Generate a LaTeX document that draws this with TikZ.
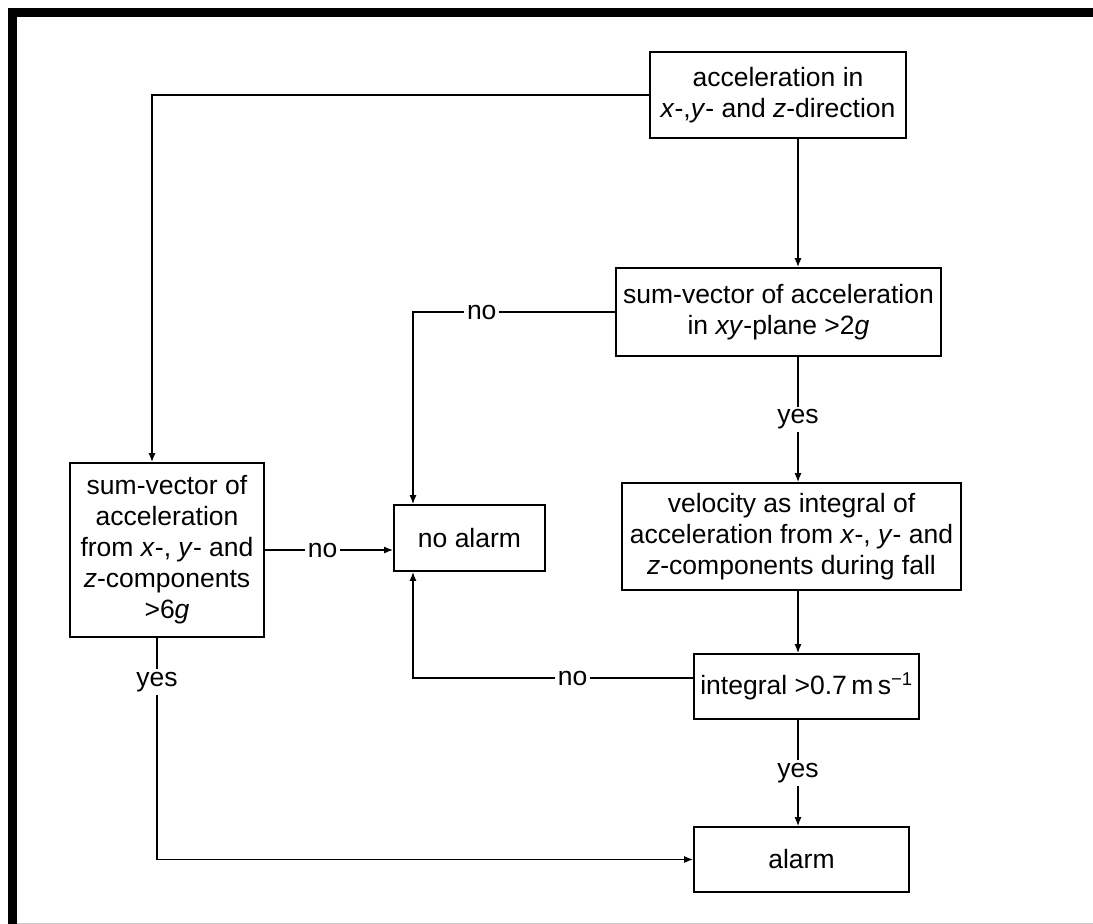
\documentclass[tikz,border=0pt]{standalone}
\usepackage{fontspec}
\setmainfont{Liberation Sans}
\usetikzlibrary{arrows.meta}
\begin{document}
\begin{tikzpicture}[x=1pt,y=-1pt,
  box/.style={draw, line width=1.6pt, align=center, inner sep=0pt,
    font=\fontsize{26.5}{31}\selectfont},
  arr/.style={line width=1.6pt, -{Latex[length=9pt,width=7pt]}},
  lab/.style={fill=white, inner sep=3pt, font=\fontsize{26.5}{31}\selectfont}]
\useasboundingbox (0,0) rectangle (1093,924);
\fill[white] (0,0) rectangle (1093,924);
% frame
\fill[black] (8,8) rectangle (17,924);
\fill[black] (8,8) rectangle (1093,17);
\draw[black!20, line width=1pt] (17,923.5) -- (1093,923.5);
% nodes
\node[box, minimum width=256pt, minimum height=86pt] (acc) at (778,95)
  {acceleration in\\\textit{x}-,\textit{y}- and \textit{z}-direction};
\node[box, minimum width=325pt, minimum height=88pt] (xy) at (778.5,312)
  {sum-vector of acceleration\\in \textit{xy}-plane >2\textit{g}};
\node[box, minimum width=339pt, minimum height=107pt] (vel) at (791.5,536.5)
  {velocity as integral of\\acceleration from \textit{x}-, \textit{y}- and\\\textit{z}-components during fall};
\node[box, minimum width=225pt, minimum height=65pt] (integ) at (806.5,686.5)
  {integral >0.7\,m\,s\textsuperscript{−1}};
\node[box, minimum width=215pt, minimum height=65pt] (alarm) at (801.5,859.5)
  {alarm};
\node[box, minimum width=194pt, minimum height=174pt] (sv) at (167,550)
  {sum-vector of\\acceleration\\from \textit{x}-, \textit{y}- and\\\textit{z}-components\\>6\textit{g}};
\node[box, minimum width=151pt, minimum height=66pt] (noal) at (469.5,538)
  {no alarm};
% helper coordinates
\coordinate (cx) at (798,0);
\coordinate (cl) at (152,95);
\coordinate (cy) at (157,0);
\coordinate (na) at (413,0);
\coordinate (nb) at (413,678);
% connectors
\draw[arr] (acc.south -| cx) -- (xy.north -| cx);
\draw[arr] (acc.west |- cl) -| (cl |- sv.north);
\draw[arr] (xy.west) -| node[lab, pos=0.33] {no} (na |- noal.north);
\draw[arr] (xy.south -| cx) -- node[lab] {yes} (vel.north -| cx);
\draw[arr] (vel.south -| cx) -- (integ.north -| cx);
\draw[arr] (integ.south -| cx) -- node[lab] {yes} (alarm.north -| cx);
\draw[arr] (integ.west |- nb) -| node[lab, pos=0.215] {no} (nb |- noal.south);
\draw[arr] (sv.east) -- node[lab, pos=0.45] {no} (sv.east -| noal.west);
\draw[arr] (cy |- sv.south) |- node[lab, pos=0.1] {yes} (alarm.west);
\end{tikzpicture}
\end{document}
